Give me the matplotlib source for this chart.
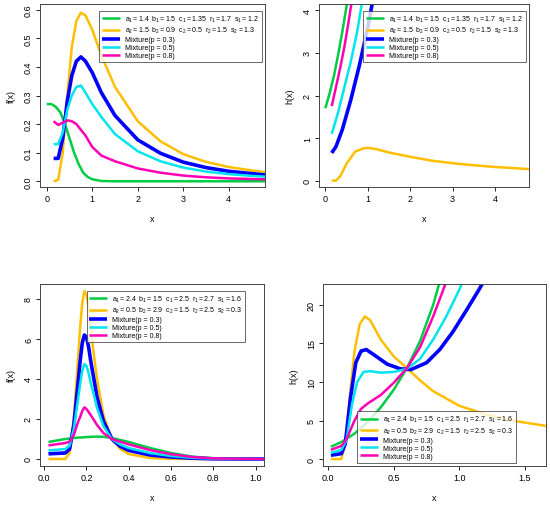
import matplotlib.pyplot as plt

GREEN, YELLOW, BLUE, CYAN, MAGENTA = "#00cc44", "#ffbf00", "#0000ff", "#00e5ee", "#ff00b4"

# panel 1: densities, first parameter set
p1_xg = [0.0, 0.1, 0.2, 0.3, 0.4, 0.5, 0.6, 0.7, 0.8, 0.9, 1.0, 1.2, 1.5, 4.8]
p1_green = [0.27, 0.27, 0.26, 0.24, 0.2, 0.15, 0.1, 0.06, 0.03, 0.015, 0.007, 0.001, 0, 0]
p1_x = [0.15, 0.25, 0.35, 0.45, 0.55, 0.65, 0.75, 0.85, 1.0, 1.2, 1.5, 2.0, 2.5, 3.0, 3.5, 4.0, 4.5, 4.8]
p1_yellow = [0, 0.005, 0.1, 0.3, 0.47, 0.56, 0.59, 0.58, 0.53, 0.44, 0.33, 0.21, 0.14, 0.095, 0.068, 0.05, 0.038, 0.032]
p1_blue = [0.08, 0.08, 0.15, 0.28, 0.37, 0.42, 0.435, 0.42, 0.38, 0.31, 0.23, 0.145, 0.098, 0.067, 0.048, 0.035, 0.027, 0.022]
p1_cyan = [0.13, 0.13, 0.17, 0.25, 0.3, 0.33, 0.335, 0.31, 0.27, 0.225, 0.165, 0.105, 0.07, 0.048, 0.034, 0.025, 0.019, 0.016]
p1_magenta = [0.21, 0.197, 0.205, 0.213, 0.21, 0.2, 0.18, 0.16, 0.12, 0.09, 0.07, 0.045, 0.03, 0.02, 0.014, 0.01, 0.008, 0.007]

# panel 2: hazards, first parameter set
p2_xg = [0, 0.1, 0.2, 0.3, 0.4, 0.5, 0.55]
p2_green = [1.7, 2.05, 2.45, 2.95, 3.5, 4.1, 4.5]
p2_xm = [0.15, 0.25, 0.35, 0.45, 0.55, 0.65]
p2_magenta = [1.75, 2.2, 2.65, 3.15, 3.75, 4.4]
p2_xc = [0.15, 0.3, 0.45, 0.6, 0.75, 0.9]
p2_cyan = [1.1, 1.6, 2.2, 2.8, 3.5, 4.4]
p2_xb = [0.15, 0.25, 0.4, 0.6, 0.8, 1.0, 1.15]
p2_blue = [0.65, 0.8, 1.2, 1.9, 2.7, 3.6, 4.4]
p2_xy = [0.15, 0.25, 0.35, 0.5, 0.7, 0.9, 1.0, 1.2, 1.5, 2.0, 2.5, 3.0, 3.5, 4.0, 4.5, 4.8]
p2_yellow = [0, 0.0, 0.1, 0.4, 0.68, 0.76, 0.77, 0.74, 0.66, 0.56, 0.47, 0.41, 0.36, 0.32, 0.29, 0.27]

# panel 3: densities, second parameter set
p3_x = [0.02, 0.1, 0.12, 0.14, 0.16, 0.17, 0.18, 0.19, 0.2, 0.21, 0.22, 0.235, 0.25, 0.28, 0.32, 0.36, 0.4, 0.5, 0.6, 0.7, 0.8, 1.04]
p3_green = [.85, 1.0, 1.02, 1.05, 1.07, 1.075, 1.08, 1.09, 1.1, 1.1, 1.11, 1.115, 1.12, 1.11, 1.05, .95, .85, .55, .3, .12, .04, 0]
p3_yellow = [0, 0, 0.3, 2, 5, 6.6, 7.8, 8.4, 8.2, 7.6, 6.5, 5.2, 4, 2.2, 1, .5, .25, .05, .01, 0, 0, 0]
p3_blue = [0.26, 0.3, 0.5, 1.7, 3.8, 4.9, 5.8, 6.2, 6.1, 5.6, 4.9, 4.0, 3.1, 1.9, 1.0, .63, .43, .2, .1, .04, .01, 0]
p3_cyan = [.43, .5, .66, 1.5, 3.0, 3.75, 4.4, 4.75, 4.65, 4.3, 3.8, 3.2, 2.55, 1.65, 1.0, .72, .55, .3, .15, .06, .02, 0]
p3_magenta = [.68, .8, .87, 1.2, 1.85, 2.1, 2.4, 2.58, 2.5, 2.35, 2.2, 1.95, 1.7, 1.3, 1.0, .86, .73, .45, .24, .1, .03, 0]

# panel 4: hazards, second parameter set
p4_xg = [0.02, 0.1, 0.2, 0.3, 0.4, 0.5, 0.6, 0.7, 0.8, 0.85]
p4_green = [1.6, 2.2, 3.3, 4.8, 6.7, 9.0, 11.8, 15.3, 20, 23]
p4_xy = [0.02, 0.1, 0.13, 0.17, 0.2, 0.24, 0.28, 0.32, 0.4, 0.5, 0.6, 0.7, 0.8, 1.0, 1.2, 1.4, 1.66]
p4_yellow = [0, 0, 2, 9, 14, 17.5, 18.5, 18, 15.5, 13.3, 11.8, 10.2, 8.8, 6.9, 5.8, 5.0, 4.3]
p4_xb = [0.02, 0.1, 0.13, 0.17, 0.21, 0.25, 0.29, 0.35, 0.45, 0.55, 0.63, 0.75, 0.85, 0.95, 1.05, 1.15, 1.2]
p4_blue = [.5, .7, 2, 8, 12.5, 14, 14.2, 13.5, 12.3, 11.7, 11.6, 12.5, 14.2, 16.5, 19.2, 22, 23.5]
p4_xc = [0.02, 0.1, 0.14, 0.18, 0.22, 0.27, 0.32, 0.4, 0.5, 0.6, 0.7, 0.8, 0.9, 1.0, 1.03]
p4_cyan = [.8, 1.2, 2.5, 7, 10, 11.3, 11.4, 11.2, 11.3, 11.7, 13, 15.5, 18.5, 22, 23.2]
p4_xm = [0.02, 0.1, 0.14, 0.2, 0.25, 0.3, 0.4, 0.5, 0.6, 0.7, 0.8, 0.9]
p4_magenta = [1.2, 1.7, 2.6, 5, 6.5, 7.2, 8.3, 9.9, 11.8, 14.5, 18.5, 23]

lab1 = [r"$a_1=1.4\ \ b_1=1.5\ \ c_1=1.35\ \ r_1=1.7\ \ s_1=1.2$",
        r"$a_2=1.5\ \ b_2=0.9\ \ c_2=0.5\ \ r_2=1.5\ \ s_2=1.3$"]
lab2 = [r"$a_1=2.4\ \ b_1=1.5\ \ c_1=2.5\ \ r_1=2.7\ \ s_1=1.6$",
        r"$a_2=0.5\ \ b_2=2.9\ \ c_2=1.5\ \ r_2=2.5\ \ s_2=0.3$"]
mixlabs = ["Mixture(p = 0.3)", "Mixture(p = 0.5)", "Mixture(p = 0.8)"]

plt.rcParams["font.family"] = ["Liberation Sans", "DejaVu Sans"]
plt.rcParams["mathtext.fontset"] = "custom"
plt.rcParams["mathtext.rm"] = "Liberation Sans"
plt.rcParams["mathtext.it"] = "Liberation Sans"

fig = plt.figure(figsize=(5.5, 5.06), dpi=100)
W, H = 550, 506
def mkax(l, t, r, b):
    return fig.add_axes([l / W, 1 - b / H, (r - l) / W, (b - t) / H])

ax1 = mkax(40, 5, 265, 188)
ax2 = mkax(319, 5, 529, 188)
ax3 = mkax(40, 285, 264, 467)
ax4 = mkax(323, 285, 546, 467)

def draw(ax, data, labels, xlim, ylim, xt, xtl, yt, ytl, ylabel, legkw):
    hs = []
    for (x, y, c, lw) in data:
        h, = ax.plot(x, y, color=c, lw=lw, solid_capstyle="butt")
        hs.append(h)
    ax.set_xlim(*xlim)
    ax.set_ylim(*ylim)
    ax.set_xticks(xt)
    ax.set_yticks(yt)
    ax.set_xticklabels(xtl, fontsize=6.5)
    ax.set_yticklabels(ytl, fontsize=6.5, rotation=90, va="center")
    ax.tick_params(length=3, width=0.6, pad=2)
    ax.set_xlabel("x", fontsize=6.5, labelpad=8)
    ax.set_ylabel(ylabel, fontsize=6.5, labelpad=6)
    for s in ax.spines.values():
        s.set_linewidth(0.7)
        s.set_color("#444444")
    leg = ax.legend(hs, labels, fontsize=5, frameon=True, fancybox=False,
                    edgecolor="#444444", handlelength=2.5, borderpad=0.4,
                    labelspacing=0.15, handletextpad=0.8, **legkw)
    leg.get_frame().set_linewidth(0.7)

labs1 = lab1 + mixlabs
labs2 = lab2 + mixlabs

draw(ax1, [(p1_xg, p1_green, GREEN, 1.8), (p1_x, p1_yellow, YELLOW, 1.8),
           (p1_x, p1_blue, BLUE, 2.6), (p1_x, p1_cyan, CYAN, 1.8),
           (p1_x, p1_magenta, MAGENTA, 1.8)],
     labs1, (-0.15, 4.8), (-0.02, 0.62), [0, 1, 2, 3, 4], ["0", "1", "2", "3", "4"],
     [0.0, 0.1, 0.2, 0.3, 0.4, 0.5, 0.6], ["0.0", "0.1", "0.2", "0.3", "0.4", "0.5", "0.6"],
     "f(x)", dict(loc="upper right", bbox_to_anchor=(1.0, 0.98)))

draw(ax2, [(p2_xg, p2_green, GREEN, 1.8), (p2_xy, p2_yellow, YELLOW, 1.8),
           (p2_xb, p2_blue, BLUE, 2.6), (p2_xc, p2_cyan, CYAN, 1.8),
           (p2_xm, p2_magenta, MAGENTA, 1.8)],
     labs1, (-0.15, 4.8), (-0.15, 4.15), [0, 1, 2, 3, 4], ["0", "1", "2", "3", "4"],
     [0, 1, 2, 3, 4], ["0", "1", "2", "3", "4"], "h(x)",
     dict(loc="upper right", bbox_to_anchor=(1.0, 0.98)))

draw(ax3, [(p3_x, p3_green, GREEN, 1.8), (p3_x, p3_yellow, YELLOW, 1.8),
           (p3_x, p3_blue, BLUE, 2.6), (p3_x, p3_cyan, CYAN, 1.8),
           (p3_x, p3_magenta, MAGENTA, 1.8)],
     labs2, (-0.02, 1.04), (-0.35, 8.75), [0.0, 0.2, 0.4, 0.6, 0.8, 1.0],
     ["0.0", "0.2", "0.4", "0.6", "0.8", "1.0"], [0, 2, 4, 6, 8], ["0", "2", "4", "6", "8"], "f(x)",
     dict(loc="upper right", bbox_to_anchor=(0.93, 0.98)))

draw(ax4, [(p4_xg, p4_green, GREEN, 1.8), (p4_xy, p4_yellow, YELLOW, 1.8),
           (p4_xb, p4_blue, BLUE, 2.6), (p4_xc, p4_cyan, CYAN, 1.8),
           (p4_xm, p4_magenta, MAGENTA, 1.8)],
     labs2, (-0.04, 1.66), (-0.9, 22.7), [0.0, 0.5, 1.0, 1.5], ["0.0", "0.5", "1.0", "1.5"],
     [0, 5, 10, 15, 20], ["0", "5", "10", "15", "20"], "h(x)",
     dict(loc="lower right", bbox_to_anchor=(0.88, 0.0)))

fig.savefig("out.png", dpi=100)
